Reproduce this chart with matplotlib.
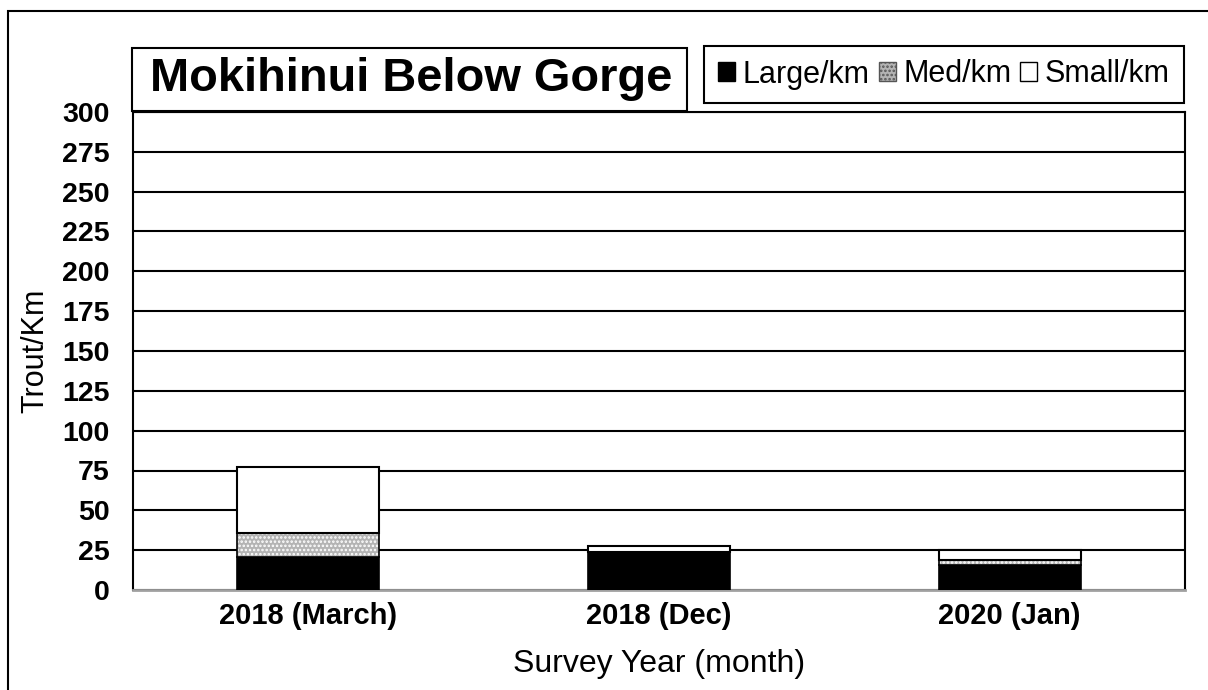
import matplotlib
matplotlib.use("Agg")
import matplotlib.pyplot as plt
from matplotlib.patches import Rectangle, Patch
import numpy as np

plt.rcParams['font.family'] = ['Liberation Sans', 'DejaVu Sans']
plt.rcParams['hatch.linewidth'] = 1.2

categories = ["2018 (March)", "2018 (Dec)", "2020 (Jan)"]
large = [20.5, 24.0, 15.5]
med = [15.5, 0.0, 3.5]
small = [41.0, 3.5, 6.0]
yticks = [0, 25, 50, 75, 100, 125, 150, 175, 200, 225, 250, 275, 300]

fig = plt.figure(figsize=(12.08, 6.9), dpi=100)
ax = fig.add_axes([133/1208, 1-590/690, (1185-133)/1208, (590-112)/690])

x = np.arange(len(categories))
w = 0.405
large = np.array(large); med = np.array(med); small = np.array(small)

ax.bar(x, large, w, color='black', edgecolor='black', linewidth=1.2, zorder=3)
ax.bar(x, med, w, bottom=large, color='#b4b4b4', edgecolor='white', hatch='....', linewidth=0, zorder=3)
ax.bar(x, med, w, bottom=large, fill=False, edgecolor='black', linewidth=1.2, zorder=4)
ax.bar(x, small, w, bottom=large+med, color='white', edgecolor='black', linewidth=1.5, zorder=3)

ax.set_ylim(0, 300)
ax.set_xlim(-0.5, 2.5)
ax.set_yticks(yticks)
ax.set_yticklabels([str(t) for t in yticks], fontsize=20.5, fontweight='bold')
ax.set_xticks(x)
ax.set_xticklabels(categories, fontsize=21, fontweight='bold')
ax.tick_params(axis='both', length=0)
ax.tick_params(axis='x', pad=9)
ax.tick_params(axis='y', pad=17)
ax.grid(axis='y', color='black', linewidth=1.5, zorder=0)
ax.set_axisbelow(True)
for s in ['left', 'right', 'top']:
    ax.spines[s].set_color('black')
    ax.spines[s].set_linewidth(1.5)
ax.spines['bottom'].set_color('#a0a0a0')
ax.spines['bottom'].set_linewidth(2)

ax.set_xlabel("Survey Year (month)", fontsize=23, labelpad=13)
ax.set_ylabel("Trout/Km", fontsize=22, labelpad=8)

# figure border
fig.patches.append(Rectangle((8/1208, -0.2), 1.3, 1-11/690+0.2, transform=fig.transFigure,
                             fill=False, edgecolor='black', linewidth=1.5, zorder=0))
# title box
fig.patches.append(Rectangle((132/1208, 1-111/690), 555/1208, 63/690, transform=fig.transFigure,
                             facecolor='white', edgecolor='black', linewidth=1.5, zorder=5))
fig.text(411/1208, 1-79/690, "Mokihinui Below Gorge", fontsize=33.8, fontweight='bold',
         ha='center', va='center', zorder=6)

handles = [Patch(facecolor='black', edgecolor='black'),
           Patch(facecolor='#b4b4b4', edgecolor='#555555', hatch='....'),
           Patch(facecolor='white', edgecolor='black')]
leg = fig.legend(handles, ['Large/km', 'Med/km', 'Small/km'], loc='center',
                 bbox_to_anchor=(944/1208, 1-74.5/690), ncol=3, fontsize=22,
                 handlelength=0.55, handleheight=0.55, handletextpad=0.25, columnspacing=0.3,
                 fancybox=False, edgecolor='black', framealpha=1, borderpad=0.45,
                 borderaxespad=0)
leg.get_frame().set_linewidth(1.5)

fig.savefig("out.png", dpi=100)
